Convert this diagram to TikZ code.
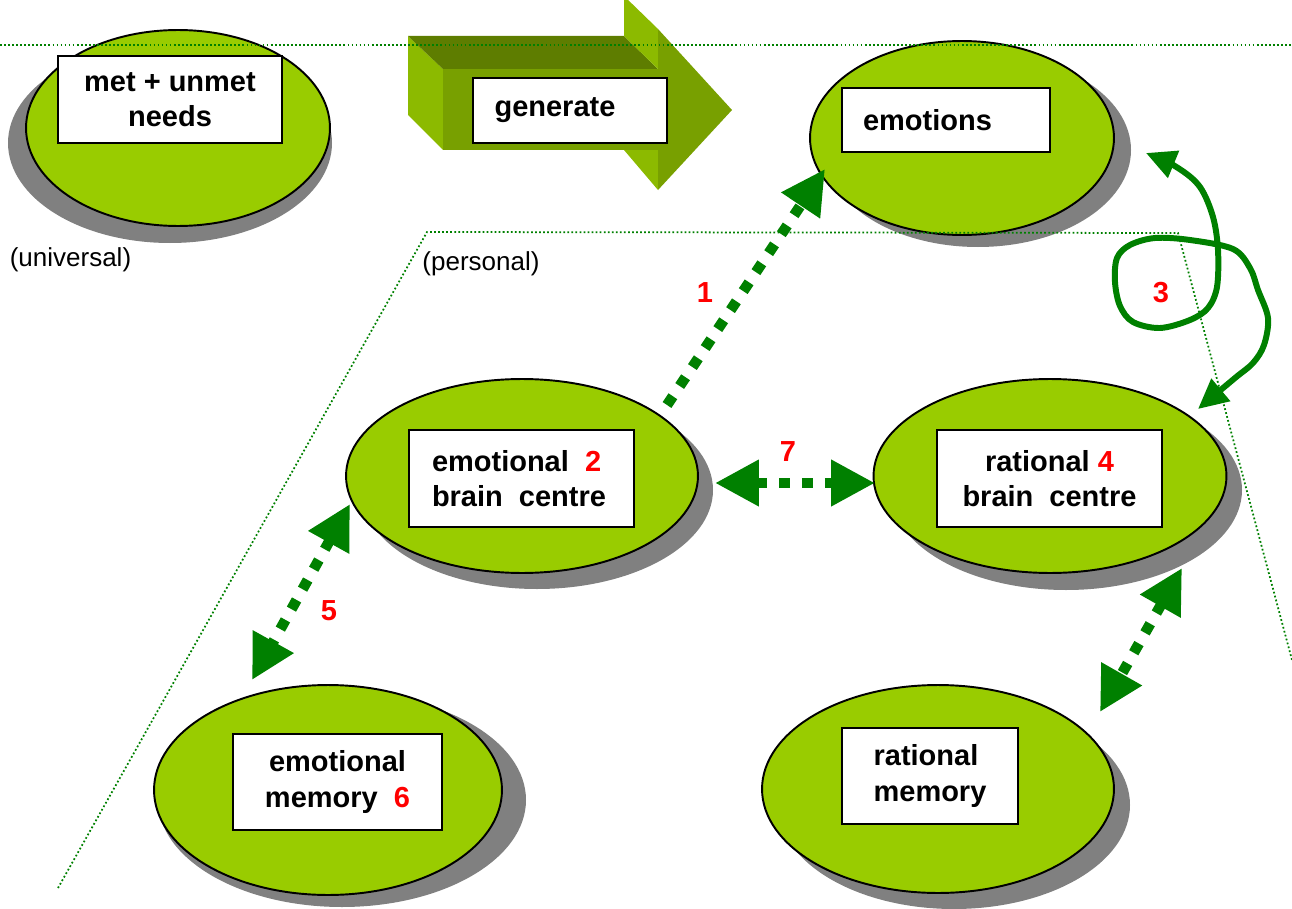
\documentclass[tikz,border=0pt]{standalone}
\usepackage{fontspec}
\setmainfont{Liberation Sans}
\usepackage{tikz}
\usetikzlibrary{arrows.meta, shapes.geometric}
\usepackage{xcolor}

\definecolor{leaf}{HTML}{99CC00}
\definecolor{shadowgrey}{HTML}{808080}
\definecolor{linkgreen}{HTML}{008000}
\definecolor{numred}{HTML}{FF0000}
\definecolor{facelight}{HTML}{8CBA00}
\definecolor{facemid}{HTML}{78A000}
\definecolor{facedark}{HTML}{5E7D00}
\newcommand{\redno}[1]{\textcolor{numred}{#1}}

\begin{document}
\begin{tikzpicture}[x=0.02cm, y=-0.02cm,
  blob/.style={ellipse, draw=black, line width=1.1pt, fill=leaf, inner sep=0pt},
  box/.style={rectangle, draw=black, line width=1.1pt, fill=white, inner sep=0pt,
    font=\fontsize{16.5}{20}\selectfont\bfseries},
  numlbl/.style={text=numred, inner sep=0pt, font=\fontsize{16.5}{20}\selectfont\bfseries},
  scopelbl/.style={inner sep=0pt, font=\fontsize{14.8}{18}\selectfont},
  border/.style={linkgreen, line width=1pt, dash pattern=on 1pt off 1.3pt},
  link/.style={linkgreen, line width=6pt, dash pattern=on 6pt off 7pt},
  twoway/.style={link, {Triangle[length=25pt,width=25pt]}-{Triangle[length=25pt,width=25pt]}},
  oneway/.style={link, -{Triangle[length=25pt,width=25pt]}},
  loopline/.style={linkgreen, line width=3.4pt, line join=round,
    {Triangle[length=17pt,width=16pt]}-{Triangle[length=17pt,width=16pt]}}]
  \useasboundingbox (0,0) rectangle (1292,909);
  \clip (0,0) rectangle (1292,909);

  % shadows
  \fill[shadowgrey] (170,143) ellipse [x radius=162, y radius=100];
  \fill[shadowgrey] (978,150) ellipse [x radius=153, y radius=97];
  \fill[shadowgrey] (537,490) ellipse [x radius=176, y radius=99];
  \fill[shadowgrey] (1066,490) ellipse [x radius=176, y radius=100];
  \fill[shadowgrey] (342,800) ellipse [x radius=184, y radius=107];
  \fill[shadowgrey] (954,805) ellipse [x radius=176, y radius=104];

  % ellipses
  \node[blob, minimum width=6.08cm, minimum height=3.92cm] (needs) at (178,128) {};
  \node[blob, minimum width=6.08cm, minimum height=3.88cm] (emo) at (962,138) {};
  \node[blob, minimum width=7.04cm, minimum height=3.88cm] (ebc) at (522,476) {};
  \node[blob, minimum width=7.06cm, minimum height=3.88cm] (rbc) at (1050,476) {};
  \node[blob, minimum width=6.96cm, minimum height=4.2cm] (emem) at (328,790) {};
  \node[blob, minimum width=7.04cm, minimum height=4.16cm] (rmem) at (938,789) {};

  % block arrow (generate)
  \fill[facelight] (408,36) -- (443,69) -- (443,150) -- (408,115) -- cycle;
  \fill[facedark] (408,36) -- (624,36) -- (658,69) -- (443,69) -- cycle;
  \fill[facelight] (624,-4) -- (658,29) -- (658,69) -- (624,36) -- cycle;
  \fill[facelight] (624,150) -- (658,150) -- (658,190) -- cycle;
  \fill[facemid] (443,69) rectangle (658,150);
  \fill[facemid] (658,29) -- (732,110) -- (658,190) -- cycle;

  % text boxes
  \node[box, align=center, minimum width=4.48cm, minimum height=1.74cm] (needsbox) at (170,99.5) {met + unmet\\needs};
  \node[box, minimum width=3.88cm, minimum height=1.3cm] (genbox) at (570,110.5) {generate\hspace*{0.6cm}};
  \node[box, minimum width=4.16cm, minimum height=1.28cm] (emobox) at (946,120) {emotions\hspace*{0.74cm}};
  \node[box, align=left, minimum width=4.5cm, minimum height=1.94cm] (ebcbox) at (521.5,478.5) {emotional\ \ \redno{2}\\brain\ \ centre\hspace*{0.1cm}};
  \node[box, align=center, minimum width=4.5cm, minimum height=1.94cm] (rbcbox) at (1049.5,478.5) {rational \redno{4}\\brain\ \ centre};
  \node[box, align=center, minimum width=4.18cm, minimum height=1.92cm] (emembox) at (337.5,782) {emotional\\memory\ \ \redno{6}};
  \node[box, align=left, minimum width=3.52cm, minimum height=1.92cm] (rmembox) at (930,776) {rational\\memory};

  % scope labels
  \node[scopelbl] (universal) at (70.5,260) {(universal)};
  \node[scopelbl] (personal) at (481,264) {(personal)};

  % dotted borders
  \draw[border] (0,45) -- (1292,45);
  \draw[border] (58,888) -- (427,232) -- (1178,233) -- (1292,660);

  % arrow ends
  \coordinate (ebcout) at (667,405);
  \coordinate (emoin) at (825,169);
  \coordinate (ebcright) at (715,483);
  \coordinate (rbcleft) at (875,483);
  \coordinate (ebcleft) at (350,504);
  \coordinate (ememtop) at (252,680);
  \coordinate (rbcbottom) at (1182,568);
  \coordinate (rmemtop) at (1100,712);
  \coordinate (emoright) at (1146,153);
  \coordinate (rbctop) at (1198,409);

  % dashed links
  \draw[oneway] (ebcout) -- (emoin);
  \draw[twoway] (ebcright) -- (rbcleft);
  \draw[twoway] (ebcleft) -- (ememtop);
  \draw[twoway] (rbcbottom) -- (rmemtop);

  % freehand loop
  \draw[loopline] plot[smooth, tension=0.55] coordinates {(emoright) (1178,168) (1200,187) (1213,217)
    (1218,250) (1217,287) (1208,308) (1190,320) (1160,328) (1133,322) (1120,306) (1115,282)
    (1117,258) (1130,245) (1155,238) (1190,240) (1233,249) (1250,268) (1258,290) (1268,318)
    (1264,345) (1253,363) (1235,378) (rbctop)};

  % numbers
  \node[numlbl] (n1) at (705,293) {1};
  \node[numlbl] (n3) at (1161,293) {3};
  \node[numlbl] (n5) at (329,611) {5};
  \node[numlbl] (n7) at (788,452) {7};
\end{tikzpicture}
\end{document}
